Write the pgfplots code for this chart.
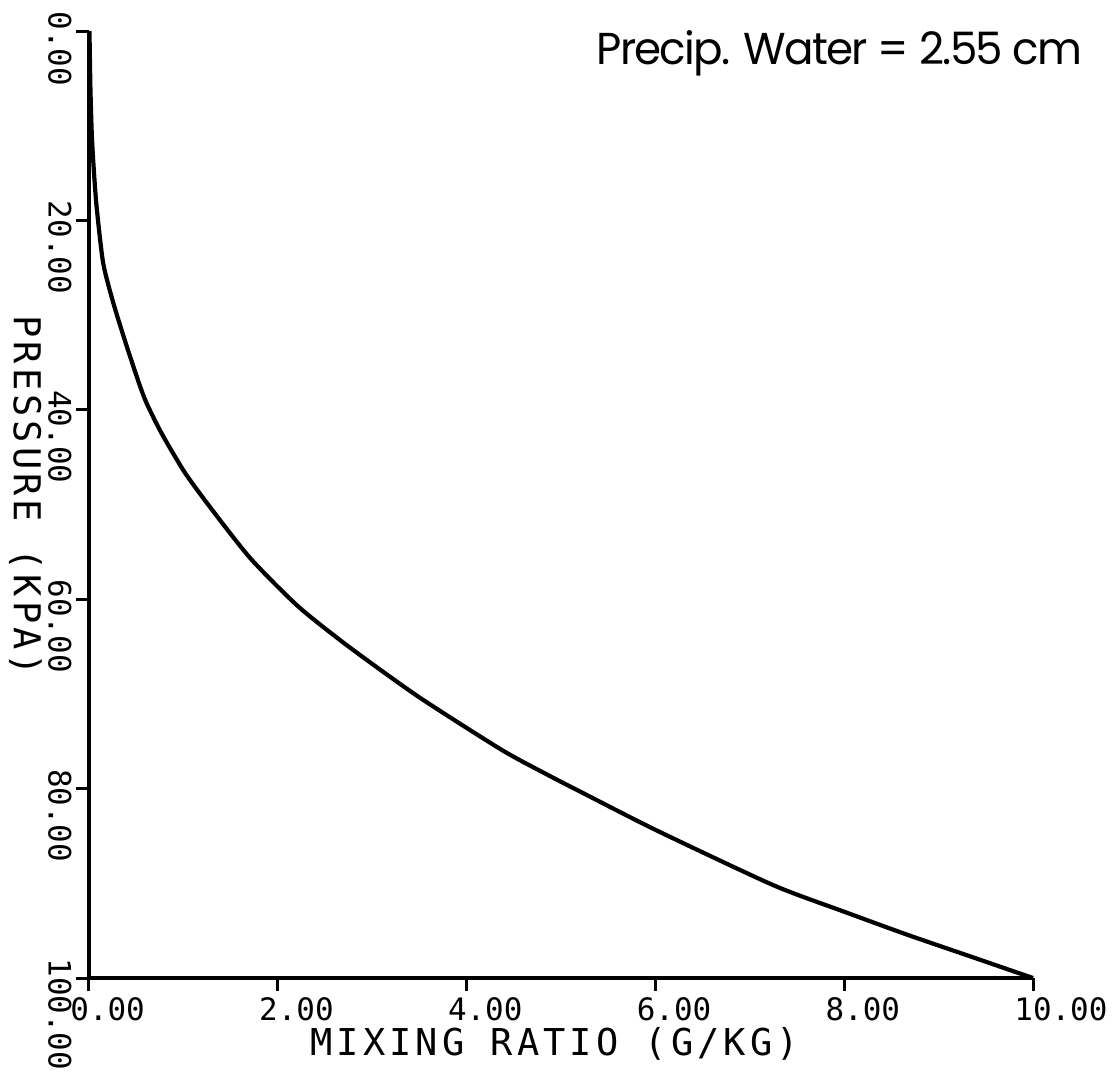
\documentclass[border=0pt]{standalone}
\usepackage{fontspec}
\usepackage{graphicx}
\usepackage{pgfplots}
\pgfplotsset{compat=1.18}
\newfontfamily\tickfont{DejaVu Sans Mono}
\newfontfamily\labfont[LetterSpace=11]{DejaVu Sans Mono}
\newfontfamily\titlefont[LetterSpace=-4]{Poppins}
\begin{document}
\begin{tikzpicture}
\begin{axis}[
  scale only axis, width=472pt, height=473.5pt,
  xmin=0, xmax=10, ymin=0, ymax=100,
  y dir=reverse,
  axis x line=bottom, axis y line=left,
  axis line style={-, line width=2pt, black},
  xtick={0,2,4,6,8,10}, ytick={0,20,40,60,80,100},
  xticklabels={0.00,2.00,4.00,6.00,8.00,10.00},
  yticklabels={0.00,20.00,40.00,60.00,80.00,100.00},
  tick align=outside, major tick length=6.5pt,
  tick style={line width=1.5pt, black},
  xticklabel style={font=\fontsize{15.45pt}{16pt}\tickfont, inner sep=0pt, xshift=-9.5pt, yshift=-3pt, anchor=north west},
  yticklabel style={font=\fontsize{15.45pt}{16pt}\tickfont, inner sep=0pt, xshift=-2pt, yshift=10pt, rotate=-90, anchor=north west},
  clip=false,
]
\addplot[line width=2.1pt, black, smooth, tension=0.4] coordinates {
(0.005,0) (0.015,6) (0.03,11) (0.05,14.5) (0.08,18.5) (0.15,24.5) (0.26,28.8)
(0.40,33.3) (0.53,37.2) (0.61,39.3) (0.77,42.5) (1.02,46.7) (1.33,50.9)
(1.72,55.8) (2.22,60.8) (2.75,65.0) (3.49,70.3) (4.37,75.9) (4.85,78.5)
(5.20,80.3) (6.01,84.4) (7.25,90.2) (8.00,93.0) (8.66,95.4) (9.36,97.8) (10,100)
};
\node[anchor=base west, inner sep=0pt, font=\fontsize{18.5pt}{20pt}\labfont] at (axis description cs:0,0) [xshift=110.5pt, yshift=-38.5pt] {MIXING RATIO (G/KG)};
\node[inner sep=0pt, font=\fontsize{18.5pt}{20pt}\labfont, xshift=-37.5pt, yshift=-142pt, rotate=-90, anchor=base west] at (axis description cs:0,1) {PRESSURE (KPA)};
\node[anchor=base east, inner sep=0pt] at (axis description cs:1,1) [xshift=25pt, yshift=-16.5pt] {\resizebox{243pt}{17pt}{\titlefont Precip. Water = 2.55 cm}};
\path (axis description cs:0,0) ++(-44.5pt,-49.5pt) coordinate (bl);
\path (axis description cs:1,1) ++(42pt,15.5pt) coordinate (tr);
\end{axis}
\pgfresetboundingbox
\path[use as bounding box] (bl) rectangle (tr);
\end{tikzpicture}
\end{document}
